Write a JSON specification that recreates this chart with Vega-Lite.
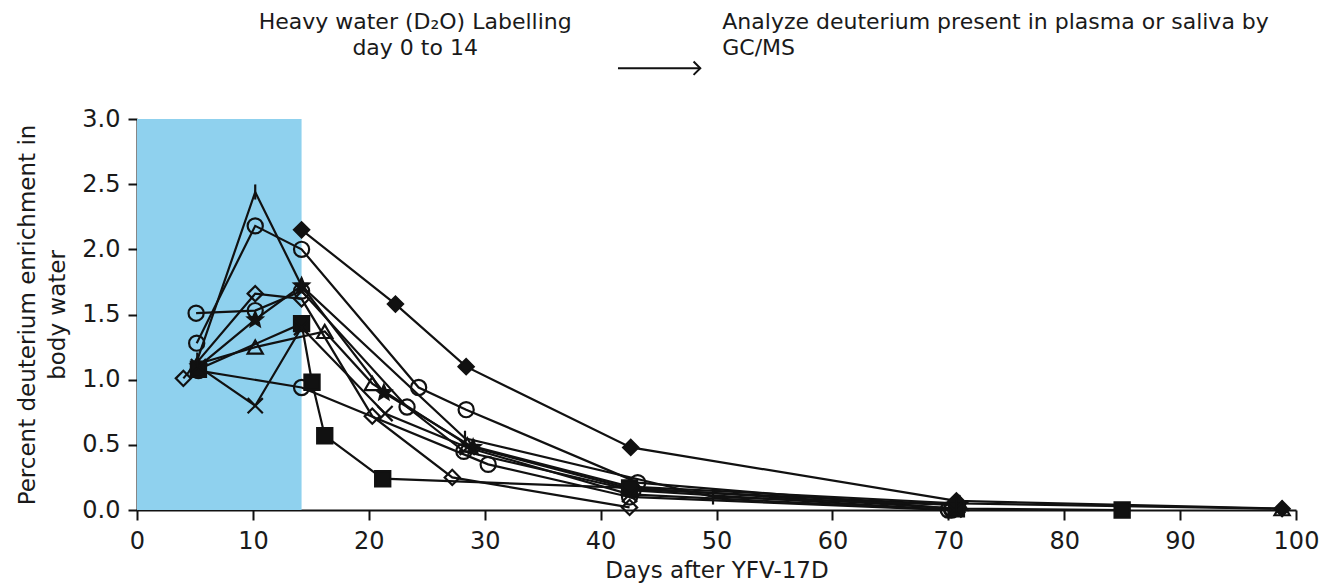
{
  "$schema": "https://vega.github.io/schema/vega-lite/v6.json",
  "width": 1159,
  "height": 391,
  "autosize": {"type": "none"},
  "padding": {"left": 137, "top": 119, "right": 40, "bottom": 76},
  "background": "white",
  "config": {
    "view": {"stroke": null},
    "font": "DejaVu Sans",
    "axis": {
      "grid": false,
      "domainColor": "#111111",
      "domainWidth": 2,
      "tickColor": "#111111",
      "tickWidth": 2,
      "labelFont": "DejaVu Sans",
      "labelFontSize": 24,
      "labelColor": "#1a1a1a",
      "titleFont": "DejaVu Sans",
      "titleFontSize": 24,
      "titleFontWeight": "normal",
      "titleColor": "#1a1a1a"
    }
  },
  "datasets": {
    "pts": [
      {"s": "A", "day": 14.2, "v": 2.15}, {"s": "A", "day": 22.3, "v": 1.58}, {"s": "A", "day": 28.4, "v": 1.10}, {"s": "A", "day": 42.6, "v": 0.48}, {"s": "A", "day": 70.7, "v": 0.07}, {"s": "A", "day": 98.8, "v": 0.01},
      {"s": "C1", "day": 5.15, "v": 1.28}, {"s": "C1", "day": 10.2, "v": 2.18}, {"s": "C1", "day": 14.2, "v": 2.00}, {"s": "C1", "day": 24.3, "v": 0.94}, {"s": "C1", "day": 28.4, "v": 0.77}, {"s": "C1", "day": 43.2, "v": 0.21}, {"s": "C1", "day": 70.3, "v": 0.01},
      {"s": "C2", "day": 5.1, "v": 1.51}, {"s": "C2", "day": 10.2, "v": 1.53}, {"s": "C2", "day": 14.2, "v": 1.68}, {"s": "C2", "day": 23.3, "v": 0.79}, {"s": "C2", "day": 28.2, "v": 0.45}, {"s": "C2", "day": 42.8, "v": 0.15}, {"s": "C2", "day": 70.3, "v": 0.0},
      {"s": "C3", "day": 5.3, "v": 1.07}, {"s": "C3", "day": 14.2, "v": 0.94}, {"s": "C3", "day": 30.3, "v": 0.35}, {"s": "C3", "day": 42.5, "v": 0.10}, {"s": "C3", "day": 70.0, "v": 0.0},
      {"s": "D", "day": 4.0, "v": 1.01}, {"s": "D", "day": 10.2, "v": 1.66}, {"s": "D", "day": 14.2, "v": 1.62}, {"s": "D", "day": 20.3, "v": 0.72}, {"s": "D", "day": 27.2, "v": 0.25}, {"s": "D", "day": 42.5, "v": 0.02},
      {"s": "S", "day": 5.3, "v": 1.10}, {"s": "S", "day": 10.2, "v": 1.46}, {"s": "S", "day": 14.2, "v": 1.72}, {"s": "S", "day": 21.3, "v": 0.90}, {"s": "S", "day": 29.0, "v": 0.48}, {"s": "S", "day": 42.7, "v": 0.16}, {"s": "S", "day": 71.0, "v": 0.04},
      {"s": "T", "day": 5.2, "v": 1.12}, {"s": "T", "day": 10.2, "v": 1.25}, {"s": "T", "day": 16.2, "v": 1.37}, {"s": "T", "day": 20.3, "v": 0.97}, {"s": "T", "day": 28.5, "v": 0.50}, {"s": "T", "day": 42.5, "v": 0.18}, {"s": "T", "day": 71.0, "v": 0.05}, {"s": "T", "day": 98.8, "v": 0.01},
      {"s": "Q", "day": 5.3, "v": 1.08}, {"s": "Q", "day": 14.2, "v": 1.43}, {"s": "Q", "day": 15.1, "v": 0.98}, {"s": "Q", "day": 16.2, "v": 0.57}, {"s": "Q", "day": 21.2, "v": 0.24}, {"s": "Q", "day": 42.5, "v": 0.17}, {"s": "Q", "day": 70.7, "v": 0.01}, {"s": "Q", "day": 85.0, "v": 0.0},
      {"s": "X", "day": 5.3, "v": 1.10}, {"s": "X", "day": 10.2, "v": 0.80}, {"s": "X", "day": 14.2, "v": 1.40}, {"s": "X", "day": 21.4, "v": 0.74}, {"s": "X", "day": 28.5, "v": 0.48}, {"s": "X", "day": 42.5, "v": 0.12}, {"s": "X", "day": 70.5, "v": 0.0},
      {"s": "P", "day": 5.2, "v": 1.15}, {"s": "P", "day": 10.2, "v": 2.44}, {"s": "P", "day": 14.2, "v": 1.72}, {"s": "P", "day": 28.3, "v": 0.55}, {"s": "P", "day": 49.7, "v": 0.10}, {"s": "P", "day": 70.7, "v": 0.04}
    ]
  },
  "encoding": {
    "x": {
      "field": "day",
      "type": "quantitative",
      "scale": {"domain": [0, 100], "nice": false, "zero": false},
      "axis": {
        "title": "Days after YFV-17D",
        "values": [0, 10, 20, 30, 40, 50, 60, 70, 80, 90, 100],
        "tickSize": 10,
        "labelPadding": 9,
        "titlePadding": 6,
        "titleFontSize": 23,
        "labelFlush": false
      }
    },
    "y": {
      "field": "v",
      "type": "quantitative",
      "scale": {"domain": [0, 3], "nice": false},
      "axis": {
        "title": ["Percent deuterium enrichment in", "body water"],
        "titleFontSize": 23,
        "values": [0, 0.5, 1, 1.5, 2, 2.5, 3],
        "format": ".1f",
        "tickSize": 9,
        "labelPadding": 8,
        "titlePadding": 12,
        "titleLineHeight": 30,
        "labelFlush": false
      }
    }
  },
  "layer": [
    {
      "data": {"values": [{"day": 0, "day2": 14.2, "v": 0, "v2": 3}]},
      "mark": {"type": "rect", "color": "#8fd1ee"},
      "encoding": {"x2": {"field": "day2"}, "y2": {"field": "v2"}}
    },
    {
      "data": {"name": "pts"},
      "mark": {"type": "line", "color": "#111111", "strokeWidth": 2.2},
      "encoding": {"detail": {"field": "s"}}
    },
    {
      "data": {"name": "pts"},
      "mark": {"type": "point", "filled": true, "stroke": "#111111", "strokeWidth": 2.2, "size": 230, "opacity": 1},
      "encoding": {
        "shape": {
          "field": "s",
          "scale": {
            "domain": ["A", "C1", "C2", "C3", "D", "S", "T", "Q", "X", "P"],
            "range": ["diamond", "circle", "circle", "circle", "diamond", "M0,-1L0.265,-0.364L0.951,-0.309L0.428,0.139L0.588,0.809L0,0.45L-0.588,0.809L-0.428,0.139L-0.951,-0.309L-0.265,-0.364Z", "triangle-up", "square", "M-1,-1L1,1M-1,1L1,-1", "M0,-1L0,1"]
          },
          "legend": null
        },
        "fill": {
          "field": "s",
          "scale": {
            "domain": ["A", "C1", "C2", "C3", "D", "S", "T", "Q", "X", "P"],
            "range": ["#111111", "transparent", "transparent", "transparent", "transparent", "#111111", "transparent", "#111111", "transparent", "transparent"]
          },
          "legend": null
        }
      }
    },
    {
      "data": {"values": [
        {"day": 24.0, "v": 3.69, "label": "Heavy water (D₂O) Labelling"},
        {"day": 24.0, "v": 3.49, "label": "day 0 to 14"}
      ]},
      "mark": {"type": "text", "align": "center", "baseline": "alphabetic", "fontSize": 22, "color": "#1a1a1a", "clip": false},
      "encoding": {"text": {"field": "label"}}
    },
    {
      "data": {"values": [
        {"day": 50.5, "v": 3.69, "label": "Analyze deuterium present in plasma or saliva by"},
        {"day": 50.5, "v": 3.49, "label": "GC/MS"}
      ]},
      "mark": {"type": "text", "align": "left", "baseline": "alphabetic", "fontSize": 22, "color": "#1a1a1a", "clip": false},
      "encoding": {"text": {"field": "label"}}
    },
    {
      "data": {"values": [{"day": 41.5, "day2": 48.6, "v": 3.39}]},
      "mark": {"type": "rule", "color": "#111111", "strokeWidth": 2, "clip": false},
      "encoding": {"x2": {"field": "day2"}}
    },
    {
      "data": {"values": [{"day": 48.6, "v": 3.39}]},
      "mark": {"type": "point", "shape": "M-1,-1L0,0L-1,1", "size": 180, "stroke": "#111111", "strokeWidth": 2, "fill": "transparent", "opacity": 1, "clip": false},
      "encoding": {}
    }
  ]
}
